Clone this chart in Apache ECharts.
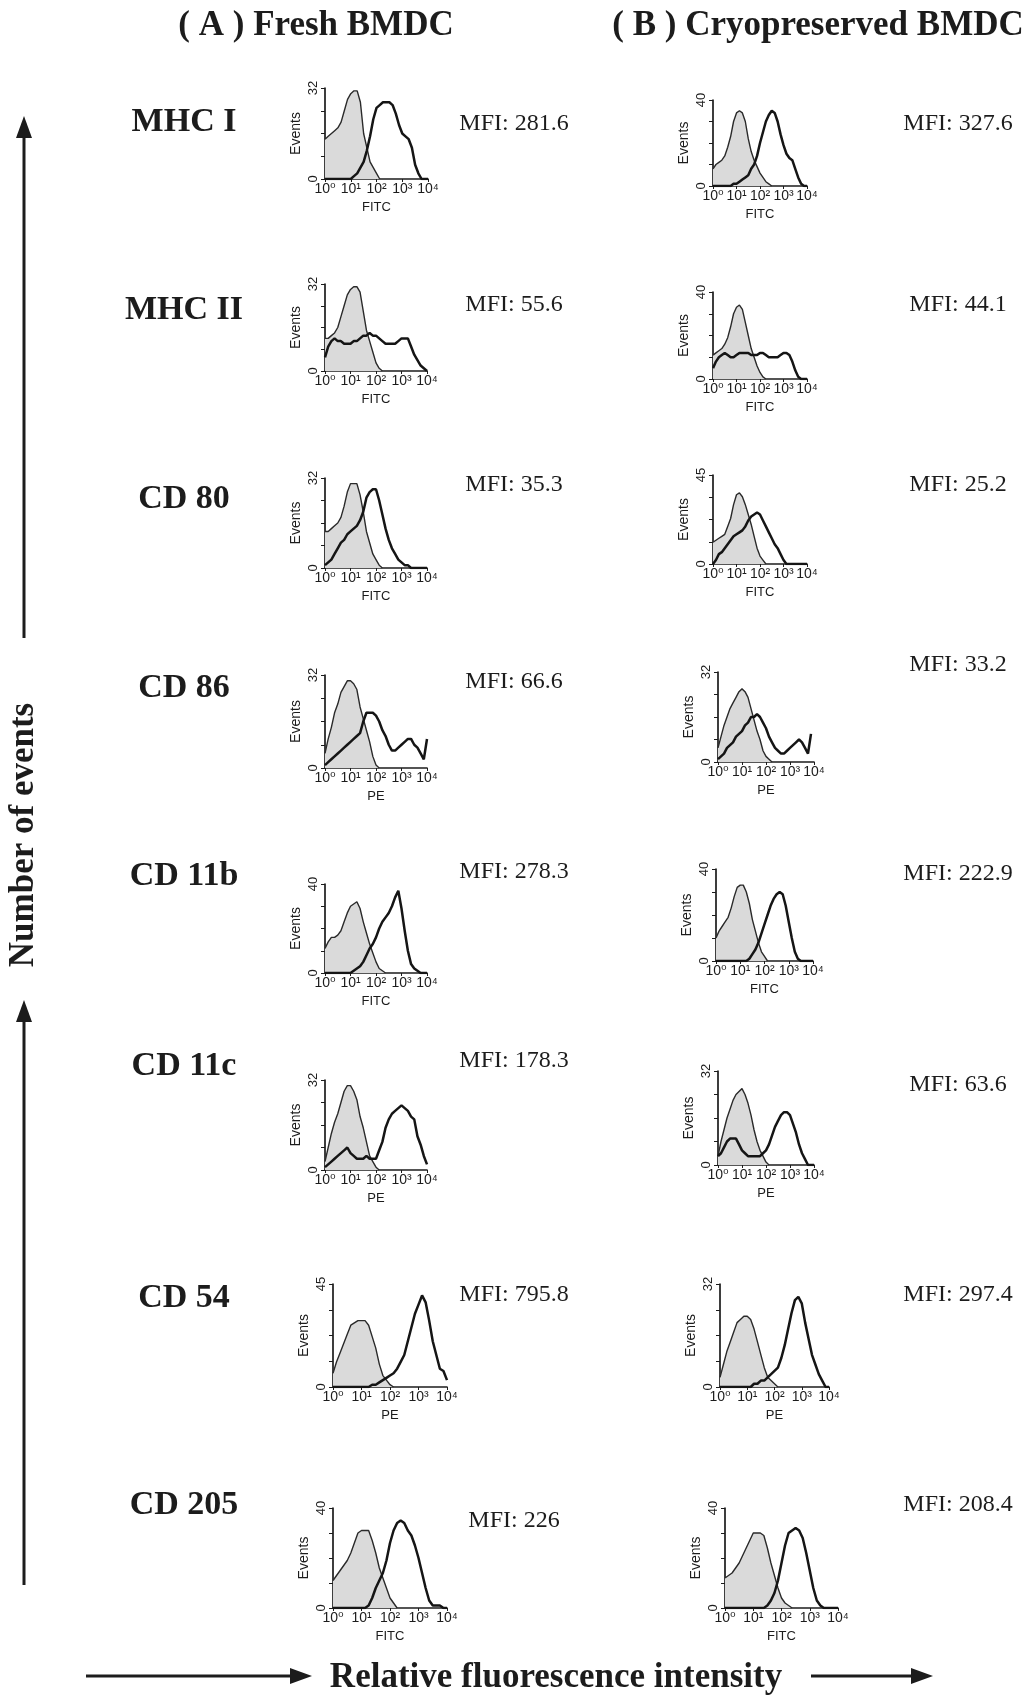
<!DOCTYPE html>
<html>
<head>
<meta charset="utf-8">
<script src="https://cdn.jsdelivr.net/npm/echarts@6/dist/echarts.min.js"></script>
<style>
html,body{margin:0;padding:0;background:#fff;}
#chart{width:1031px;height:1697px;}
</style>
</head>
<body>
<div id="chart"></div>
<script>
// ---- shared x grid (log decades: 10^0 .. 10^4) ----
const decades = [0,0.125,0.25,0.375,0.5,0.625,0.75,0.875,1,1.125,1.25,1.375,1.5,1.625,1.75,1.875,2,2.125,2.25,2.375,2.5,2.625,2.75,2.875,3,3.125,3.25,3.375,3.5,3.625,3.75,3.875,4];
const xTickLabels = ['10\u2070','10\u00B9','10\u00B2','10\u00B3','10\u2074'];

const markers = ['MHC I','MHC II','CD 80','CD 86','CD 11b','CD 11c','CD 54','CD 205'];
const channels = ['FITC','FITC','FITC','PE','FITC','PE','PE','FITC'];
const freshYMax = [32,32,32,32,40,32,45,40];
const cryoYMax  = [40,40,45,32,40,32,32,40];
const freshMFI = ['281.6','55.6','35.3','66.6','278.3','178.3','795.8','226'];
const cryoMFI  = ['327.6','44.1','25.2','33.2','222.9','63.6','297.4','208.4'];

// ---- (A) Fresh BMDC: isotype control (filled) and stained sample (bold line), events per bin ----
const fMHCI_ctrl  = [14,15,16,17,18,20,24,28,30,31,31,27,16,11,6,4,2,0];
const fMHCI_test  = [0,0,0,0,0,0,0,0,0,1,2,4,6,10,15,21,25,26,27,27,27,26,23,19,16,15,14,11,5,2,0,0,0];
const fMHCII_ctrl = [12,12,13,14,16,20,24,28,30,31,31,29,22,15,11,7,3,1,0];
const fMHCII_test = [5,9,11,12,11,11,10,10,10,11,11,12,13,13,14,13,13,12,11,10,10,10,10,11,12,12,12,9,6,4,2,1,0];
const fCD80_ctrl  = [13,13,14,15,16,18,22,27,30,30,30,26,20,13,9,5,3,1,0];
const fCD80_test  = [1,2,3,5,7,9,10,12,13,14,15,17,20,25,27,28,28,24,19,14,10,7,5,3,2,1,1,0,0,0,0,0,0];
const fCD86_ctrl  = [5,10,14,19,22,26,28,30,30,29,27,21,17,13,9,4,1,0];
const fCD86_test  = [1,2,3,4,5,6,7,8,9,10,11,12,16,19,19,19,18,16,13,11,8,6,6,7,8,9,10,10,8,7,5,3,10];
const fCD11b_ctrl = [11,14,16,16,17,19,23,27,30,31,32,29,23,18,13,9,5,2,1,0];
const fCD11b_test = [0,0,0,0,0,0,0,0,0,1,2,3,5,8,11,13,16,20,23,25,27,30,34,37,29,19,10,4,2,1,0,0,0];
const fCD11c_ctrl = [3,8,13,17,20,24,28,30,30,28,25,19,15,10,5,3,1,0];
const fCD11c_test = [1,2,3,4,5,6,7,8,6,5,4,4,4,5,4,4,4,7,10,15,18,20,21,22,23,22,21,19,18,12,9,5,2];
const fCD54_ctrl  = [6,11,15,19,23,27,28,29,29,29,27,22,17,10,5,3,1,0];
const fCD54_test  = [0,0,0,0,0,0,0,0,0,0,0,1,1,2,3,4,5,6,8,11,14,20,26,32,36,40,37,29,20,14,8,7,3];
const fCD205_ctrl = [11,13,15,17,19,22,26,30,31,31,31,27,22,16,12,8,4,2,0];
const fCD205_test = [0,0,0,0,0,0,0,0,0,0,1,4,8,11,14,19,26,31,34,35,34,31,29,25,20,14,8,3,1,1,1,0,0];

// ---- (B) Cryopreserved BMDC ----
const cMHCI_ctrl  = [8,10,11,12,14,18,23,30,34,35,34,30,22,16,12,9,6,4,2,1,0];
const cMHCI_test  = [0,0,0,0,0,0,0,1,1,2,3,4,5,8,10,14,20,25,30,33,35,34,30,24,19,15,13,12,8,4,1,0,0];
const cMHCII_ctrl = [11,12,13,14,16,19,24,30,33,34,32,26,20,14,10,6,3,1,0];
const cMHCII_test = [5,8,10,11,12,11,10,10,11,12,12,12,12,11,11,11,12,12,11,10,10,10,10,11,12,12,11,8,4,1,0,0,0];
const cCD80_ctrl  = [11,12,13,14,15,19,23,30,35,36,34,30,25,20,14,8,4,2,0];
const cCD80_test  = [0,2,5,6,8,10,12,14,15,16,17,19,22,24,25,26,25,22,19,16,13,10,8,5,2,0,0,0,0,0,0,0,0];
const cCD86_ctrl  = [5,9,13,16,19,21,23,25,26,25,23,19,15,11,8,4,2,1,0];
const cCD86_test  = [1,2,3,5,6,7,9,10,11,13,14,16,16,17,16,14,12,9,7,5,4,3,3,4,5,6,7,8,7,5,3,10,null];
const cCD11b_ctrl = [10,13,15,17,19,23,28,32,33,33,30,25,18,13,8,4,2,0];
const cCD11b_test = [0,0,0,0,0,0,0,0,0,0,0,1,3,5,8,12,16,20,24,27,29,30,29,24,17,10,4,1,0,0,0,0,0];
const cCD11c_ctrl = [3,8,12,16,19,22,24,25,26,24,21,17,12,8,5,3,1,0];
const cCD11c_test = [3,4,6,8,9,9,9,7,5,4,3,3,3,3,3,4,5,7,10,13,15,17,18,18,17,14,11,7,4,2,0,0,0];
const cCD54_ctrl  = [3,7,11,14,17,20,21,22,22,21,18,14,10,6,3,2,1,0];
const cCD54_test  = [0,0,0,0,0,0,0,0,0,0,1,1,2,2,3,4,5,6,9,13,18,23,27,28,26,20,15,10,7,4,2,0,0];
const cCD205_ctrl = [12,13,14,16,18,21,24,27,30,30,30,29,24,18,13,8,4,2,1,0];
const cCD205_test = [0,0,0,0,0,0,0,0,0,0,0,0,1,3,6,11,18,25,30,31,32,31,28,22,15,8,3,1,0,0,0,0,0];

const freshCtrl = [fMHCI_ctrl,fMHCII_ctrl,fCD80_ctrl,fCD86_ctrl,fCD11b_ctrl,fCD11c_ctrl,fCD54_ctrl,fCD205_ctrl];
const freshTest = [fMHCI_test,fMHCII_test,fCD80_test,fCD86_test,fCD11b_test,fCD11c_test,fCD54_test,fCD205_test];
const cryoCtrl  = [cMHCI_ctrl,cMHCII_ctrl,cCD80_ctrl,cCD86_ctrl,cCD11b_ctrl,cCD11c_ctrl,cCD54_ctrl,cCD205_ctrl];
const cryoTest  = [cMHCI_test,cMHCII_test,cCD80_test,cCD86_test,cCD11b_test,cCD11c_test,cCD54_test,cCD205_test];

// ---- layout (pixels): [left, right, top, bottom] of each plot area ----
const freshBox = [[325,428,88,179],[325,427,284,371],[325,427,478,568],[325,427,675,768],[325,427,884,973],[325,427,1080,1170],[333,447,1284,1387],[333,447,1508,1608]];
const cryoBox  = [[713,807,100,186],[713,807,292,379],[713,807,475,564],[718,814,672,762],[716,813,869,961],[718,814,1071,1165],[720,829,1284,1387],[725,838,1508,1608]];
const rowLabelY = [122,310,499,688,876,1066,1298,1505];
const freshMfiY = [124,305,485,682,872,1061,1295,1521];
const cryoMfiY  = [124,305,485,665,874,1085,1295,1505];

const SANS = '"Liberation Sans", "DejaVu Sans", Arial, sans-serif';
const SERIF = '"Liberation Serif", "DejaVu Serif", "Times New Roman", serif';
const INK = '#1c1c1c';

const grids = [], xAxes = [], yAxes = [], series = [];
function addPanel(box, ymax, channel, ctrl, test) {
  const i = grids.length;
  grids.push({left: box[0], top: box[2], width: box[1]-box[0], height: box[3]-box[2], containLabel: false});
  xAxes.push({
    type: 'value', gridIndex: i, min: 0, max: 4, interval: 1,
    name: channel, nameLocation: 'middle', nameGap: 22,
    nameTextStyle: {fontFamily: SANS, fontSize: 13, color: INK},
    axisLine: {show: true, onZero: false, lineStyle: {color: INK, width: 1.7}},
    axisTick: {show: true, length: 3, lineStyle: {color: INK, width: 1}},
    axisLabel: {margin: 3, fontFamily: SANS, fontSize: 14, color: INK,
      showMinLabel: true, showMaxLabel: true,
      formatter: v => xTickLabels[Math.round(v)] || ''},
    splitLine: {show: false}
  });
  yAxes.push({
    type: 'value', gridIndex: i, min: 0, max: ymax, interval: ymax/4,
    name: 'Events', nameLocation: 'middle', nameGap: 22, nameRotate: 90,
    nameTextStyle: {fontFamily: SANS, fontSize: 14, color: INK},
    axisLine: {show: true, lineStyle: {color: INK, width: 1.7}},
    axisTick: {show: true, length: 4, lineStyle: {color: INK, width: 1}},
    axisLabel: {rotate: 90, margin: 5, fontFamily: SANS, fontSize: 13, color: INK,
      showMinLabel: true, showMaxLabel: true,
      formatter: v => (Math.abs(v) < 1e-6 ? '0' : (Math.abs(v - ymax) < 1e-6 ? String(ymax) : ''))},
    splitLine: {show: false}
  });
  series.push({
    type: 'line', xAxisIndex: i, yAxisIndex: i, showSymbol: false, silent: true,
    data: ctrl.map((v, k) => [decades[k], v]),
    lineStyle: {color: '#2a2a2a', width: 1.4},
    areaStyle: {color: '#dadada', opacity: 1},
    z: 2
  });
  series.push({
    type: 'line', xAxisIndex: i, yAxisIndex: i, showSymbol: false, silent: true,
    data: test.map((v, k) => [decades[k], v]),
    lineStyle: {color: '#151515', width: 2.5},
    z: 3
  });
}
for (let r = 0; r < markers.length; r++) {
  addPanel(freshBox[r], freshYMax[r], channels[r], freshCtrl[r], freshTest[r]);
  addPanel(cryoBox[r], cryoYMax[r], channels[r], cryoCtrl[r], cryoTest[r]);
}

const graphics = [];
function txt(text, x, y, font, extra) {
  graphics.push(Object.assign({type: 'text', x: x, y: y, silent: true,
    style: {text: text, x: 0, y: 0, font: font, fill: INK, align: 'center', verticalAlign: 'middle'}}, extra || {}));
}
txt('( A ) Fresh BMDC', 316, 26, 'bold 35px ' + SERIF);
txt('( B ) Cryopreserved BMDC', 818, 26, 'bold 35px ' + SERIF);
for (let r = 0; r < markers.length; r++) {
  txt(markers[r], 184, rowLabelY[r], 'bold 34px ' + SERIF);
  txt('MFI: ' + freshMFI[r], 514, freshMfiY[r], '24px ' + SERIF);
  txt('MFI: ' + cryoMFI[r], 958, cryoMfiY[r], '24px ' + SERIF);
}
txt('Number of events', 24, 835, 'bold 35px ' + SERIF, {rotation: Math.PI / 2});
txt('Relative fluorescence intensity', 556, 1678, 'bold 35px ' + SERIF);

function arrow(x1, y1, x2, y2) {
  const dx = x2 - x1, dy = y2 - y1, len = Math.sqrt(dx*dx + dy*dy);
  const ux = dx/len, uy = dy/len, hl = 22, hw = 8;
  const bx = x2 - ux*hl, by = y2 - uy*hl;
  graphics.push({type: 'line', silent: true, shape: {x1: x1, y1: y1, x2: bx, y2: by},
    style: {stroke: INK, lineWidth: 3}});
  graphics.push({type: 'polygon', silent: true,
    shape: {points: [[x2, y2], [bx - uy*hw, by + ux*hw], [bx + uy*hw, by - ux*hw]]},
    style: {fill: INK}});
}
arrow(24, 638, 24, 116);
arrow(24, 1585, 24, 1000);
arrow(86, 1676, 312, 1676);
arrow(811, 1676, 933, 1676);

const chart = echarts.init(document.getElementById('chart'), null, {renderer: 'canvas'});
chart.setOption({
  backgroundColor: '#ffffff',
  animation: false,
  grid: grids, xAxis: xAxes, yAxis: yAxes, series: series,
  graphic: graphics
});
</script>
</body>
</html>
